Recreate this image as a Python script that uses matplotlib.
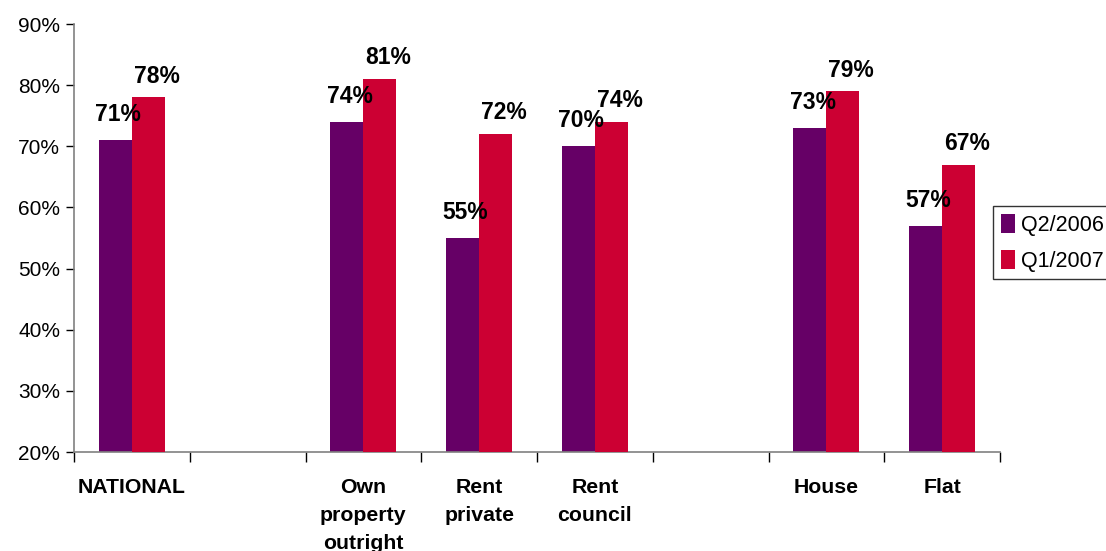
import matplotlib
matplotlib.use("Agg")
import matplotlib.pyplot as plt
import numpy as np

categories = ["NATIONAL", "", "Own\nproperty\noutright", "Rent\nprivate", "Rent\ncouncil", "", "House", "Flat"]
q2_2006 = [71, np.nan, 74, 55, 70, np.nan, 73, 57]
q1_2007 = [78, np.nan, 81, 72, 74, np.nan, 79, 67]
series_names = ["Q2/2006", "Q1/2007"]
yticks = [20, 30, 40, 50, 60, 70, 80, 90]

plt.rcParams['font.family'] = ['Liberation Sans', 'DejaVu Sans']

fig = plt.figure(figsize=(11.06, 5.51), dpi=100)
ax = fig.add_axes([74/1106, 1-452/551, (1000-74)/1106, (452-24)/551])

x = np.arange(len(categories))
w = 0.285
purple = "#660066"
red = "#CC0033"
b1 = ax.bar(x - w/2, q2_2006, w, color=purple, label=series_names[0], zorder=2)
b2 = ax.bar(x + w/2, q1_2007, w, color=red, label=series_names[1], zorder=3)

for xi, v in zip(x, q2_2006):
    if not np.isnan(v):
        ax.annotate(f"{v:.0f}%", (xi - w/2, v), xytext=(2, 10), textcoords="offset points",
                    ha="center", va="bottom", fontsize=16.5, fontweight="bold", zorder=5)
for xi, v in zip(x, q1_2007):
    if not np.isnan(v):
        ax.annotate(f"{v:.0f}%", (xi + w/2, v), xytext=(6, 7), textcoords="offset points",
                    ha="center", va="bottom", fontsize=16.5, fontweight="bold", zorder=5)

ax.set_xlim(-0.5, len(categories) - 0.5)
ax.set_ylim(20, 90)
ax.set_yticks(yticks)
ax.set_yticklabels([f"{t}%" for t in yticks], fontsize=15)

ax.set_xticks(x)
ax.set_xticklabels(categories, fontsize=15.3, fontweight="bold", linespacing=1.6, va="top")
ax.set_xticks(np.arange(-0.5, len(categories)), minor=True)
ax.tick_params(axis="x", which="major", length=0, pad=19)
ax.tick_params(axis="x", which="minor", length=7, width=1, color="#000000", direction="out")
ax.tick_params(axis="y", length=6, width=1, color="#000000", direction="out", pad=4)

for s in ["top", "right"]:
    ax.spines[s].set_visible(False)
ax.spines["left"].set_color("#808080")
ax.spines["bottom"].set_color("#808080")
ax.spines["left"].set_linewidth(1.2)
ax.spines["bottom"].set_linewidth(1.2)

leg = fig.legend(handles=[b1, b2], labels=series_names, loc="upper left",
                 bbox_to_anchor=(993/1106, 1-206/551), fontsize=15.5, frameon=True,
                 fancybox=False, edgecolor="black", handlelength=0.65, handleheight=1.0,
                 handletextpad=0.3, labelspacing=0.65, borderpad=0.35, borderaxespad=0)
leg.get_frame().set_linewidth(1.0)

fig.savefig("out.png", dpi=100)
